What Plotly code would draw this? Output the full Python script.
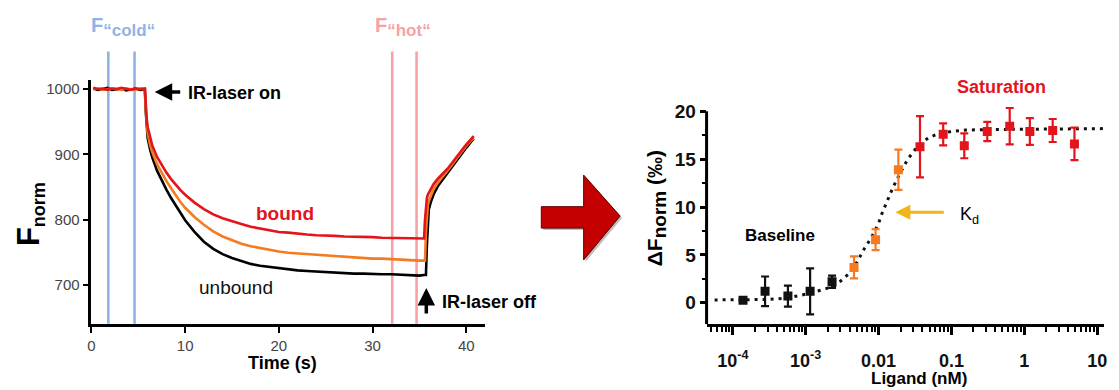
import plotly.graph_objects as go

W, H = 1119, 390

# ---------------- Left panel data: MST time traces ----------------
time_s = [0.2, 0.7, 1.2, 1.7, 2.2, 2.7, 3.2, 3.7, 4.2, 4.7, 5.2, 5.7,
          5.8, 5.9, 6.0, 6.25, 6.5,
          7.0, 7.5, 8.0, 8.5, 9.0, 9.5, 10,
          11, 12, 13, 14, 15, 16, 17, 18, 19, 20, 21, 22, 23, 24, 25,
          26, 27, 28, 29, 30, 31, 32, 33, 34, 35,
          35.5,
          35.6, 35.7, 35.8, 35.9, 36.0, 36.2, 36.5,
          37, 37.5, 38, 38.5, 39, 39.5, 40, 40.5, 40.8]

fnorm_unbound = [1001, 999, 1000, 1002, 999, 1000, 1001, 998, 1000, 1001, 999, 1000,
                 965, 940, 925, 908, 895,
                 875, 860, 846, 833, 821, 810, 799,
                 781, 766, 755, 747, 741, 736, 732, 729, 727, 725, 724, 722, 721, 720, 719,
                 718, 718, 717, 717, 716, 716, 716, 715, 715, 714,
                 715,
                 715, 715, 760, 800, 815, 826, 838,
                 852, 862, 871, 881, 891, 901, 910, 919, 924]

fnorm_mid = [1000, 1001, 999, 1000, 1001, 1000, 999, 1001, 1000, 999, 1001, 1000,
             968, 947, 933, 915, 903,
             885, 871, 859, 848, 837, 827, 818,
             804, 792, 782, 774, 768, 763, 759, 756, 753, 751, 749, 748, 746, 745, 744,
             743, 742, 741, 741, 740, 740, 739, 739, 738, 737,
             737,
             737, 780, 812, 822, 828, 836, 846,
             857, 866, 874, 884, 894, 904, 913, 921, 925]

fnorm_bound = [1002, 1000, 1001, 999, 1001, 1000, 1002, 1000, 999, 1001, 1000, 1001,
               973, 954, 942, 925, 913,
               896, 883, 872, 862, 853, 845, 838,
               826, 816, 808, 802, 797, 793, 789, 786, 784, 781, 780, 778, 777, 776, 776,
               775, 774, 774, 773, 773, 772, 772, 772, 771, 771,
               771,
               800, 825, 833, 838, 841, 847, 854,
               863, 870, 878, 887, 897, 906, 915, 923, 928]

cold_window = [1.8, 4.6]
hot_window = [32.1, 34.7]

# ---------------- Right panel data: binding curve ----------------
ligand_nM = [1.38e-4, 2.77e-4, 5.7e-4, 1.15e-3, 2.3e-3,
             4.6e-3, 9.1e-3, 0.0187,
             0.037, 0.077, 0.15, 0.31, 0.63, 1.19, 2.45, 4.87]
delta_fnorm = [0.28, 1.2, 0.7, 1.2, 2.2,
               3.7, 6.6, 13.9,
               16.3, 17.6, 16.4, 17.9, 18.45, 17.9, 18.0, 16.6]
delta_err = [0.2, 1.55, 1.1, 2.4, 0.65,
             1.15, 1.1, 2.1,
             3.2, 1.15, 1.3, 1.0, 1.9, 1.4, 1.2, 1.7]
n_baseline, n_transition = 5, 3

fit_log10_nM = [-4.25, -3.75, -3.5, -3.25, -3.0, -2.75, -2.6, -2.5, -2.4, -2.3, -2.2,
                -2.1, -2.0, -1.95, -1.9, -1.8, -1.7, -1.6, -1.5, -1.4, -1.3, -1.2,
                -1.0, -0.8, -0.5, 0.0, 0.5, 1.09]
fit_delta = [0.3, 0.3, 0.35, 0.5, 0.9, 1.4, 1.8, 2.4, 3.1, 4.2, 5.6,
             6.8, 8.3, 9.4, 10.3, 12.1, 13.6, 15.0, 16.0, 16.8, 17.3, 17.6,
             17.9, 18.05, 18.1, 18.15, 18.2, 18.2]

x_ticks_log = [1e-4, 1e-3, 1e-2, 1e-1, 1, 10]
x_ticktext = ["10<sup>-4</sup>", "10<sup>-3</sup>", "0.01", "0.1", "1", "10"]

BLACK = "#111111"
ORANGE = "#f47b20"
RED = "#e3141b"
COLD = "#8fb4e3"
HOT = "#f5a3a3"
FONT = "Liberation Sans"


def px(xp):
    return xp / W


def py(yp):
    return 1 - yp / H


fig = go.Figure()

# left traces
for vals, col in [(fnorm_unbound, "#000000"), (fnorm_mid, ORANGE), (fnorm_bound, RED)]:
    fig.add_trace(go.Scatter(x=time_s, y=vals, mode="lines",
                             line=dict(color=col, width=2.6),
                             xaxis="x", yaxis="y", showlegend=False, hoverinfo="skip"))

# right: fit
fig.add_trace(go.Scatter(x=[10 ** v for v in fit_log10_nM], y=fit_delta, mode="lines",
                         line=dict(color="#111111", width=3, dash="3px,5px"),
                         xaxis="x2", yaxis="y2", showlegend=False, hoverinfo="skip"))

groups = [(0, n_baseline, BLACK),
          (n_baseline, n_baseline + n_transition, ORANGE),
          (n_baseline + n_transition, len(ligand_nM), RED)]
for a, b, col in groups:
    fig.add_trace(go.Scatter(
        x=ligand_nM[a:b], y=delta_fnorm[a:b], mode="markers",
        marker=dict(symbol="square", size=9, color=col),
        error_y=dict(type="data", array=delta_err[a:b], color=col, thickness=2.2, width=4),
        xaxis="x2", yaxis="y2", showlegend=False, hoverinfo="skip"))

shapes = []
for xv in cold_window:
    shapes.append(dict(type="line", xref="x", yref="paper", x0=xv, x1=xv,
                       y0=py(323), y1=py(47), line=dict(color=COLD, width=2.6), layer="below"))
for xv in hot_window:
    shapes.append(dict(type="line", xref="x", yref="paper", x0=xv, x1=xv,
                       y0=py(323), y1=py(47), line=dict(color=HOT, width=2.6), layer="below"))

# right y-axis line (stops at 20)
shapes.append(dict(type="line", xref="x2 domain", yref="y2", x0=0, x1=0, y0=-2.23, y1=20,
                   line=dict(color="black", width=3)))

# big red arrow between panels (decoration)
arrow_pts = [(540.7, 204.3), (583.3, 204.3), (583.3, 172.3), (620, 213.8),
             (583.3, 258.3), (583.3, 226), (540.7, 226)]
shadow = "M " + " L ".join(f"{px(x+2)},{py(y+2)}" for x, y in arrow_pts) + " Z"
path = "M " + " L ".join(f"{px(x)},{py(y)}" for x, y in arrow_pts) + " Z"
shapes.append(dict(type="path", xref="paper", yref="paper", path=shadow,
                   fillcolor="rgba(0,0,0,0.25)", line=dict(width=0)))
shapes.append(dict(type="path", xref="paper", yref="paper", path=path,
                   fillcolor="#c40000", line=dict(color="#5a0000", width=1)))

ann = []


def text(xp, yp, s, size, color="black", bold=True, angle=0):
    ann.append(dict(x=px(xp), y=py(yp), xref="paper", yref="paper", text=s,
                    showarrow=False, textangle=angle, xanchor="center", yanchor="middle",
                    font=dict(family=FONT, size=size, color=color,
                              weight="bold" if bold else "normal")))


text(120, 22, "F<sub><span style='font-size:17px'>“cold“</span></sub>", 20, COLD)
text(402, 22, "F<sub><span style='font-size:17px'>“hot“</span></sub>", 20, HOT)
text(232, 89, "IR-laser on", 18)
text(489, 301, "IR-laser off", 18)
text(283, 211, "bound", 19, RED)
text(233, 286, "unbound", 19, "#111111", bold=False)
text(280, 363, "Time (s)", 18)
text(26, 212, "F<sub><span style='font-size:18px'>norm</span></sub>", 31, angle=-90)
text(1004, 83, "Saturation", 18, RED)
text(781, 233, "Baseline", 17)
text(972, 213, "K<sub>d</sub>", 18, bold=False)
text(921, 378, "Ligand (nM)", 17)
text(656, 206, "ΔF<sub><span style='font-size:19px'>norm</span></sub> (‰)", 21, angle=-90)

# arrows
ann.append(dict(x=6.75, y=995.5, xref="x", yref="y", ax=27, ay=0, text="",
                showarrow=True, arrowhead=2, arrowsize=1, arrowwidth=3.5, arrowcolor="black"))
ann.append(dict(x=35.74, y=695, xref="x", yref="y", ax=0, ay=27, text="",
                showarrow=True, arrowhead=2, arrowsize=1, arrowwidth=3.5, arrowcolor="black"))
ann.append(dict(x=-1.77, y=9.45, xref="x2", yref="y2", ax=50, ay=0, text="",
                showarrow=True, arrowhead=2, arrowsize=1, arrowwidth=3, arrowcolor="#f2b418"))

minor_vals = [m * 10 ** e for e in range(-5, 2) for m in range(2, 10)]

fig.update_layout(
    width=W, height=H, margin=dict(l=0, r=0, t=0, b=0),
    paper_bgcolor="white", plot_bgcolor="white",
    font=dict(family=FONT),
    shapes=shapes, annotations=ann,
    xaxis=dict(domain=[px(88), px(484)], range=[0, 42], anchor="y",
               showline=True, linecolor="black", linewidth=2.6,
               ticks="outside", ticklen=6, tickwidth=2, tickcolor="black",
               tickvals=[0, 10, 20, 30, 40],
               tickfont=dict(family=FONT, size=15, color="#444"),
               showgrid=False, zeroline=False),
    yaxis=dict(domain=[py(323), py(76)], range=[640, 1014], anchor="x",
               showline=True, linecolor="black", linewidth=2.6,
               ticks="outside", ticklen=6, tickwidth=2, tickcolor="black",
               tickvals=[700, 800, 900, 1000],
               tickfont=dict(family=FONT, size=15, color="#444"),
               showgrid=False, zeroline=False),
    xaxis2=dict(type="log", domain=[px(707), px(1106.7)], range=[-4.36, 1.09], anchor="y2",
                showline=True, linecolor="black", linewidth=3,
                ticks="outside", ticklen=8, tickwidth=2.5, tickcolor="black",
                tickvals=x_ticks_log, ticktext=x_ticktext,
                tickfont=dict(family=FONT, size=18, color="#111", weight="bold"),
                ticklabelstandoff=10,
                minor=dict(tickvals=minor_vals, ticks="outside", ticklen=5, tickwidth=2,
                           tickcolor="black", showgrid=False),
                showgrid=False, zeroline=False),
    yaxis2=dict(domain=[py(323.3), py(102.9)], range=[-2.23, 20.5], anchor="x2",
                showline=False,
                ticks="outside", ticklen=6, tickwidth=2.5, tickcolor="black",
                tickvals=[0, 5, 10, 15, 20],
                tickfont=dict(family=FONT, size=19, color="#111", weight="bold"),
                minor=dict(tickvals=[2.5, 7.5, 12.5, 17.5], ticks="outside", ticklen=4,
                           tickwidth=2, tickcolor="black", showgrid=False),
                showgrid=False, zeroline=False),
)

fig.write_html("out.html")
